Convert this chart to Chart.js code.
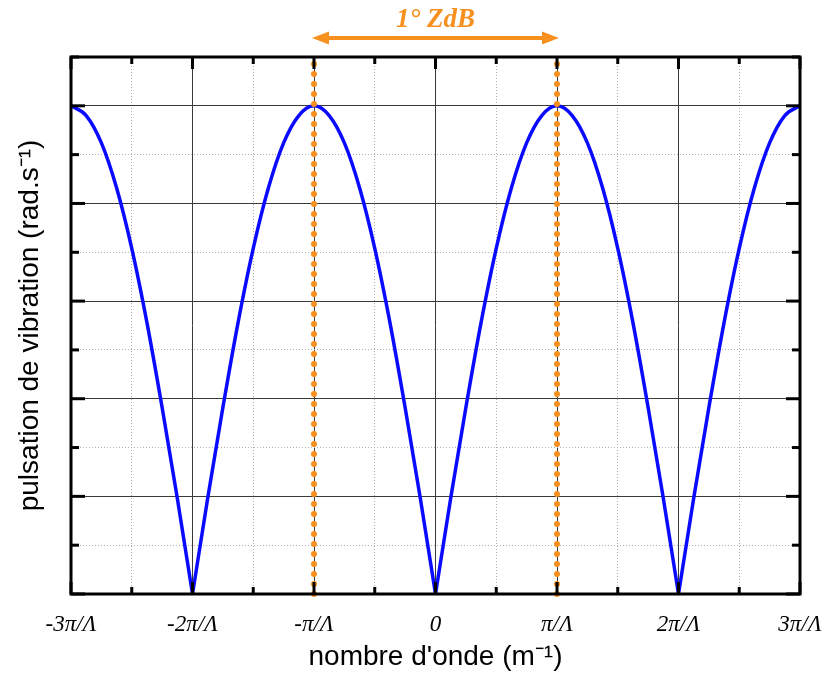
<!DOCTYPE html>
<html>
<head>
<meta charset="utf-8">
<script src="https://cdn.jsdelivr.net/npm/chart.js@4.4.1/dist/chart.umd.min.js"></script>
<style>
    html, body { margin: 0; padding: 0; background: #fff; }
</style>
</head>
<body>
<canvas id="chart" width="830" height="681"></canvas>
<script>
// --- Données (k en unités de π/Λ) ---
const kValues = [
    -3, -2.875, -2.75, -2.625, -2.5, -2.375, -2.25, -2.125,
    -2, -1.875, -1.75, -1.625, -1.5, -1.375, -1.25, -1.125,
    -1, -0.875, -0.75, -0.625, -0.5, -0.375, -0.25, -0.125,
    0, 0.125, 0.25, 0.375, 0.5, 0.625, 0.75, 0.875,
    1, 1.125, 1.25, 1.375, 1.5, 1.625, 1.75, 1.875,
    2, 2.125, 2.25, 2.375, 2.5, 2.625, 2.75, 2.875,
    3
];
const omegaValues = [
    5, 4.90, 4.62, 4.16, 3.54, 2.78, 1.91, 0.98,
    0, 0.98, 1.91, 2.78, 3.54, 4.16, 4.62, 4.90,
    5, 4.90, 4.62, 4.16, 3.54, 2.78, 1.91, 0.98,
    0, 0.98, 1.91, 2.78, 3.54, 4.16, 4.62, 4.90,
    5, 4.90, 4.62, 4.16, 3.54, 2.78, 1.91, 0.98,
    0, 0.98, 1.91, 2.78, 3.54, 4.16, 4.62, 4.90,
    5
];
// indices des points anguleux (ω = 0) où la courbe est coupée en arches
const cuspIndices = [0, 8, 24, 40, 48];
const xTickValues = [-3, -2, -1, 0, 1, 2, 3];
const xTickLabels = ['-3π/Λ', '-2π/Λ', '-π/Λ', '0', 'π/Λ', '2π/Λ', '3π/Λ'];
const zoneEdges = [-1, 1];
const zoneLabel = '1° ZdB';
const xTitle = "nombre d'onde (m⁻¹)";
const yTitle = 'pulsation de vibration (rad.s⁻¹)';

const ORANGE = '#f7901e';
const BLUE = '#0a0aff';

// --- Cadre, graduations intérieures et flèche de la zone ---
const cadrePlugin = {
    id: 'cadre',
    afterDatasetsDraw(chart) {
        const { ctx, chartArea: a, scales } = chart;
        const line = (x1, y1, x2, y2) => {
            ctx.beginPath(); ctx.moveTo(x1, y1); ctx.lineTo(x2, y2); ctx.stroke();
        };
        ctx.save();
        ctx.strokeStyle = '#000';
        ctx.lineWidth = 3;
        scales.xm.ticks.forEach(t => {
            const px = scales.xm.getPixelForValue(t.value);
            const len = Number.isInteger(t.value) ? 12 : 7;
            line(px, a.bottom, px, a.bottom - len);
            line(px, a.top, px, a.top + len);
        });
        scales.ym.ticks.forEach(t => {
            const py = scales.ym.getPixelForValue(t.value);
            const len = Number.isInteger(t.value) ? 14 : 8;
            line(a.left, py, a.left + len, py);
            line(a.right, py, a.right - len, py);
        });
        ctx.lineWidth = 3;
        ctx.strokeRect(a.left, a.top, a.right - a.left, a.bottom - a.top);

        // flèche double
        const x1 = scales.x.getPixelForValue(zoneEdges[0]) - 2;
        const x2 = scales.x.getPixelForValue(zoneEdges[1]) + 2;
        const ya = 38;
        ctx.strokeStyle = ORANGE;
        ctx.fillStyle = ORANGE;
        ctx.lineWidth = 4;
        line(x1 + 12, ya, x2 - 12, ya);
        ctx.beginPath();
        ctx.moveTo(x1, ya); ctx.lineTo(x1 + 17, ya - 6.5); ctx.lineTo(x1 + 17, ya + 6.5); ctx.closePath(); ctx.fill();
        ctx.beginPath();
        ctx.moveTo(x2, ya); ctx.lineTo(x2 - 17, ya - 6.5); ctx.lineTo(x2 - 17, ya + 6.5); ctx.closePath(); ctx.fill();

        ctx.font = 'italic bold 27px "Liberation Serif", serif';
        ctx.textAlign = 'center';
        ctx.textBaseline = 'alphabetic';
        ctx.fillText(zoneLabel, (x1 + x2) / 2, 27);
        ctx.restore();
    }
};

// une arche = un jeu de données, pour garder les points anguleux à ω = 0
const archDatasets = cuspIndices.slice(0, -1).map((start, j) => ({
    data: kValues.slice(start, cuspIndices[j + 1] + 1)
        .map((k, i) => ({ x: k, y: omegaValues[start + i] })),
    borderColor: BLUE,
    borderWidth: 3.5,
    pointRadius: 0,
    cubicInterpolationMode: 'monotone',
    order: 1
}));
const zoneDatasets = zoneEdges.map(e => ({
    data: [{ x: e, y: 0 }, { x: e, y: 5.53 }],
    borderColor: ORANGE,
    borderWidth: 6,
    borderDash: [0, 10],
    borderCapStyle: 'round',
    pointRadius: 0,
    clip: false,
    order: 0
}));

const halfGrid = (ctx) => Number.isInteger(ctx.tick.value) ? 'rgba(0,0,0,0)' : '#b0b0b0';
const fullGrid = (ctx) => Number.isInteger(ctx.tick.value) ? '#3a3a3a' : 'rgba(0,0,0,0)';

new Chart(document.getElementById('chart'), {
    type: 'line',
    data: { datasets: [...zoneDatasets, ...archDatasets] },
    options: {
        responsive: false,
        animation: false,
        layout: { padding: { top: 57, right: 30, left: 0, bottom: 0 } },
        plugins: { legend: { display: false }, tooltip: { enabled: false } },
        scales: {
            x: {
                type: 'linear', position: 'bottom', min: -3, max: 3,
                ticks: {
                    stepSize: 1, autoSkip: false, maxRotation: 0, padding: 17,
                    color: '#000',
                    font: { family: '"Liberation Serif", serif', style: 'italic', size: 23 },
                    callback: v => {
                        const i = xTickValues.indexOf(v);
                        return i >= 0 ? xTickLabels[i] : '';
                    }
                },
                grid: { color: fullGrid, lineWidth: 1, drawTicks: false },
                border: { display: false },
                title: {
                    display: true, text: xTitle, color: '#000',
                    font: { family: '"Liberation Sans", Arial, sans-serif', size: 28 },
                    padding: { top: 0, bottom: 7 }
                },
                afterFit: s => { s.height = 87; s.paddingLeft = 0; s.paddingRight = 0; }
            },
            xm: {
                type: 'linear', position: 'bottom', min: -3, max: 3,
                ticks: { display: false, stepSize: 0.5 },
                grid: { color: halfGrid, lineWidth: 1, drawTicks: false, borderDash: [1, 2] },
                border: { display: false, dash: [1, 2] },
                afterFit: s => { s.height = 0; s.paddingLeft = 0; s.paddingRight = 0; }
            },
            y: {
                type: 'linear', position: 'left', min: 0, max: 5.5,
                ticks: { display: false, stepSize: 1 },
                grid: { color: fullGrid, lineWidth: 1, drawTicks: false },
                border: { display: false },
                title: {
                    display: true, text: yTitle, color: '#000',
                    font: { family: '"Liberation Sans", Arial, sans-serif', size: 28 },
                    padding: { top: 13, bottom: 0 }
                },
                afterFit: s => { s.width = 71; }
            },
            ym: {
                type: 'linear', position: 'left', min: 0, max: 5.5,
                ticks: { display: false, stepSize: 0.5 },
                grid: { color: halfGrid, lineWidth: 1, drawTicks: false, borderDash: [1, 2] },
                border: { display: false, dash: [1, 2] },
                afterFit: s => { s.width = 0; }
            }
        }
    },
    plugins: [cadrePlugin]
});
</script>
</body>
</html>
